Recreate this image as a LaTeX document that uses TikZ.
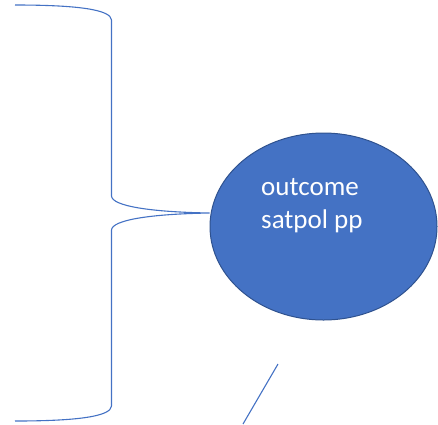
\documentclass[tikz,border=0pt]{standalone}
\usepackage{fontspec}
\setmainfont{Carlito}
\usetikzlibrary{shapes.geometric}
\definecolor{officeblue}{HTML}{4472C4}
\definecolor{officeborder}{HTML}{2F528F}
\tikzset{
  bracestyle/.style={draw=officeblue, line width=1.1pt},
  bubble/.style={ellipse, fill=officeblue, draw=officeborder, line width=1pt,
    minimum width=227pt, minimum height=187pt, inner sep=0pt},
  bubbletext/.style={text=white, font=\fontsize{27}{33}\selectfont, align=left, inner sep=0pt}
}
\begin{document}
\begin{tikzpicture}[x=1pt,y=-1pt]
\useasboundingbox (0,0) rectangle (438,424);
\node[bubble] (out) at (323.5,226.5) {};
\node[bubbletext, anchor=base west] (t1) at (261,195) {outcome};
\node[bubbletext, anchor=base west] (t2) at (261,228) {satpol pp};
\coordinate (btop) at (15,5);
\coordinate (bbot) at (15,421);
\coordinate (tip) at (out.west |- 0,213);
\draw[bracestyle] (btop) .. controls (80,5) and (111,10) .. (111.5,20)
  -- (111.5,196) .. controls (112,206) and (150,212) .. (tip)
  .. controls (150,214) and (112,220) .. (111.5,230)
  -- (111.5,406) .. controls (111,416) and (80,421) .. (bbot);
\coordinate (la) at (278,364);
\coordinate (lb) at (243,424);
\draw[bracestyle] (la) -- (lb);
\end{tikzpicture}
\end{document}
